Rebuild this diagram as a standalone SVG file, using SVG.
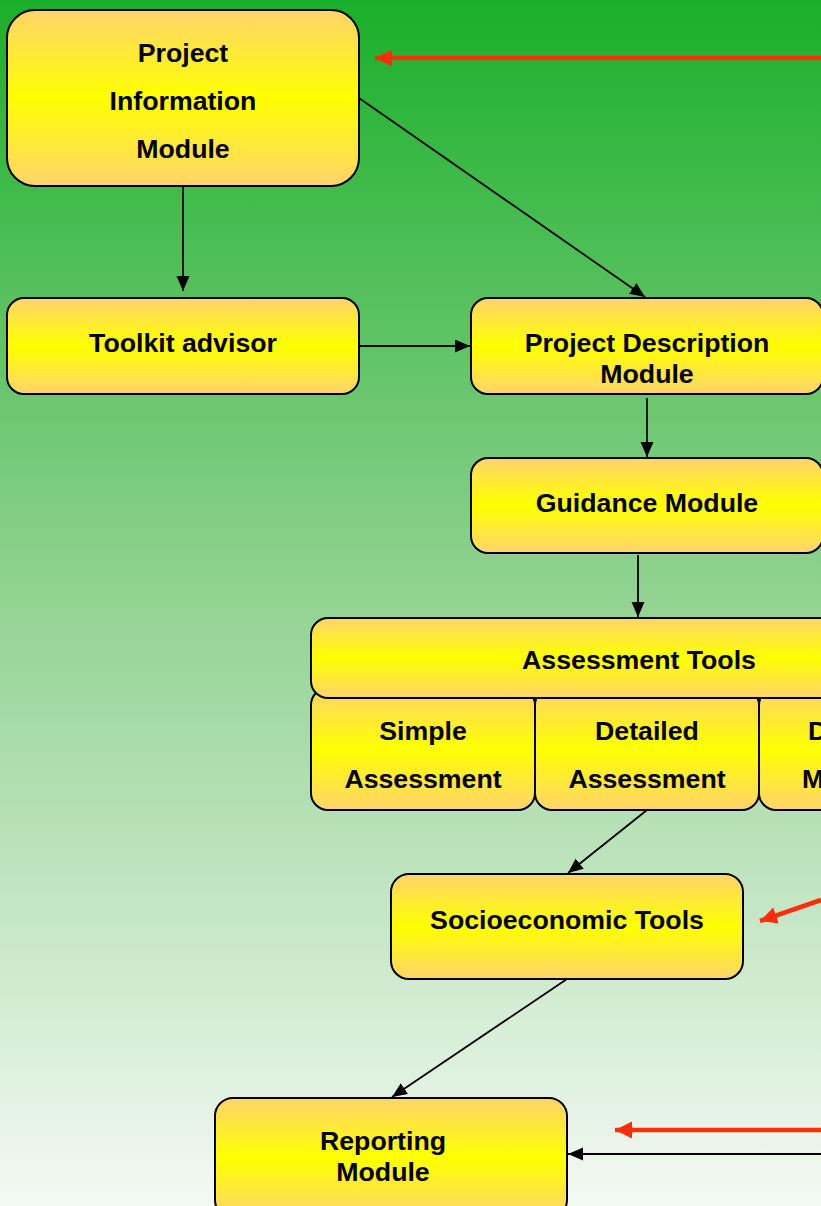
<svg xmlns="http://www.w3.org/2000/svg" width="821" height="1206" viewBox="0 0 821 1206">
  <defs>
    <linearGradient id="bg" x1="0" y1="0" x2="0" y2="1">
      <stop offset="0" stop-color="#1AAF2A"/>
      <stop offset="0.5" stop-color="#93D393"/>
      <stop offset="1" stop-color="#F4F9F4"/>
    </linearGradient>
    <linearGradient id="nodeFill" x1="0" y1="0" x2="0" y2="1">
      <stop offset="0" stop-color="#FFD46C"/>
      <stop offset="0.5" stop-color="#FFFF00"/>
      <stop offset="1" stop-color="#FFD46C"/>
    </linearGradient>
    <marker id="arrowBlack" markerUnits="userSpaceOnUse" markerWidth="16" markerHeight="14" refX="15" refY="6.5" orient="auto">
      <path d="M0,0 L15,6.5 L0,13 Z" fill="#000"/>
    </marker>
    <marker id="arrowRed" markerUnits="userSpaceOnUse" markerWidth="19" markerHeight="18" refX="17" refY="8.5" orient="auto">
      <path d="M0,0 L17,8.5 L0,17 Z" fill="#FF2E0A"/>
    </marker>
    <style>
      .node { fill: url(#nodeFill); stroke: #000; stroke-width: 2; }
      .label { font-family: "Liberation Sans", Arial, sans-serif; font-weight: bold; font-size: 26.7px; fill: #000; text-anchor: middle; }
      .edge { stroke: #000; stroke-width: 1.8; fill: none; marker-end: url(#arrowBlack); }
      .hint { stroke: #FF2E0A; stroke-width: 4.5; fill: none; marker-end: url(#arrowRed); }
    </style>
  </defs>

  <rect x="0" y="0" width="821" height="1206" fill="url(#bg)"/>

  <g id="connectors">
    <line class="edge" x1="183" y1="174" x2="183" y2="291"/>
    <line class="edge" x1="359" y1="98" x2="645" y2="297"/>
    <line class="edge" x1="359" y1="346" x2="470" y2="346"/>
    <line class="edge" x1="647" y1="398" x2="647" y2="457"/>
    <line class="edge" x1="638" y1="555" x2="638" y2="617"/>
    <line class="edge" x1="647" y1="810" x2="568" y2="873"/>
    <line class="edge" x1="567" y1="979" x2="392" y2="1097"/>
    <line class="edge" x1="821" y1="1154" x2="568" y2="1154"/>
    <line class="hint" x1="821" y1="58" x2="375" y2="58"/>
    <line class="hint" x1="821" y1="900" x2="760" y2="921"/>
    <line class="hint" x1="821" y1="1130" x2="615" y2="1130"/>
  </g>

  <g id="project-information-module">
    <rect class="node" x="7" y="10" width="352" height="176" rx="28" ry="28"/>
    <text class="label" x="183" y="62">Project</text>
    <text class="label" x="183" y="110">Information</text>
    <text class="label" x="183" y="158">Module</text>
  </g>

  <g id="toolkit-advisor">
    <rect class="node" x="7" y="298" width="352" height="96" rx="17" ry="17"/>
    <text class="label" x="183" y="352">Toolkit advisor</text>
  </g>

  <g id="project-description-module">
    <rect class="node" x="471" y="298" width="352" height="96" rx="17" ry="17"/>
    <text class="label" x="647" y="352">Project Description</text>
    <text class="label" x="647" y="383">Module</text>
  </g>

  <g id="guidance-module">
    <rect class="node" x="471" y="458" width="352" height="95" rx="17" ry="17"/>
    <text class="label" x="647" y="512">Guidance Module</text>
  </g>

  <g id="assessment-tools">
    <rect class="node" x="311" y="688" width="224" height="122" rx="17" ry="17"/>
    <rect class="node" x="535" y="688" width="224" height="122" rx="17" ry="17"/>
    <rect class="node" x="759" y="688" width="224" height="122" rx="17" ry="17"/>
    <rect class="node" x="311" y="618" width="656" height="80" rx="17" ry="17"/>
    <text class="label" x="639" y="669">Assessment Tools</text>
    <text class="label" x="423" y="740">Simple</text>
    <text class="label" x="423" y="788">Assessment</text>
    <text class="label" x="647" y="740">Detailed</text>
    <text class="label" x="647" y="788">Assessment</text>
    <text class="label" x="808" y="740" style="text-anchor:start">D</text>
    <text class="label" x="802" y="788" style="text-anchor:start">M</text>
  </g>

  <g id="socioeconomic-tools">
    <rect class="node" x="391" y="874" width="352" height="105" rx="18" ry="18"/>
    <text class="label" x="567" y="929">Socioeconomic Tools</text>
  </g>

  <g id="reporting-module">
    <rect class="node" x="215" y="1098" width="352" height="120" rx="18" ry="18"/>
    <text class="label" x="383" y="1150">Reporting</text>
    <text class="label" x="383" y="1181">Module</text>
  </g>
</svg>
